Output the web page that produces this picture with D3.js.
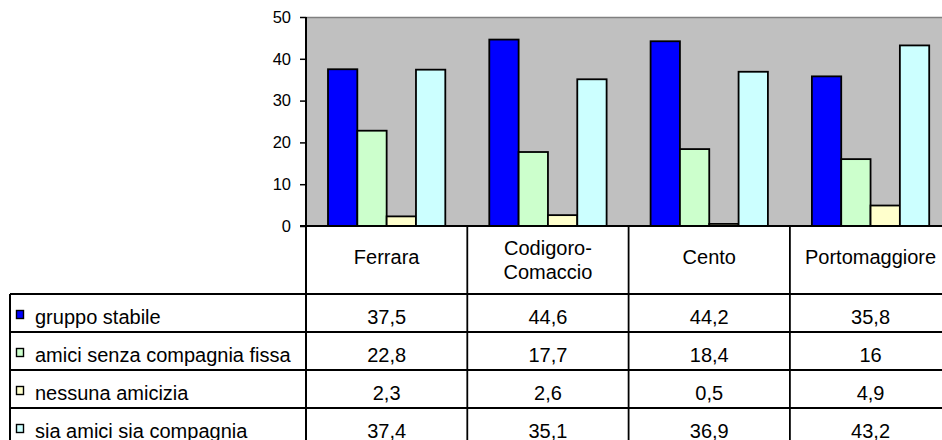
<!DOCTYPE html>
<html>
<head>
<meta charset="utf-8">
<script src="https://cdn.jsdelivr.net/npm/d3@7"></script>
<style>
  body { margin: 0; background: #fff; }
  svg { display: block; }
  text { font-family: "Liberation Sans", Arial, sans-serif; fill: #000; }
</style>
</head>
<body>
<svg></svg>
<script>
// chart data
const categories = ["Ferrara", "Codigoro-\nComaccio", "Cento", "Portomaggiore"];
const seriesNames = ["gruppo stabile", "amici senza compagnia fissa", "nessuna amicizia", "sia amici sia compagnia"];
const gruppoStabile = [37.5, 44.6, 44.2, 35.8];
const amiciSenzaCompagnia = [22.8, 17.7, 18.4, 16];
const nessunaAmicizia = [2.3, 2.6, 0.5, 4.9];
const siaAmiciSiaCompagnia = [37.4, 35.1, 36.9, 43.2];
const seriesColors = ["#0000ff", "#ccffcc", "#ffffcc", "#ccffff"];
const yTicks = [0, 10, 20, 30, 40, 50];

const W = 942, H = 440;
const plot = { left: 306, top: 17, bottom: 226, step: 161.3 };
const headerBottom = 294;
const rowH = 38;
const tableLeft = 10;
const fontSize = 20;

const seriesValues = [gruppoStabile, amiciSenzaCompagnia, nessunaAmicizia, siaAmiciSiaCompagnia];

var svg = d3.select('svg')
  .attr('width', W)
  .attr('height', H);

const x0 = d3.scaleBand()
  .domain(categories)
  .range([plot.left, plot.left + plot.step * categories.length])
  .padding(0);

// gap width 150% -> outer padding of 0.75 band on each side
const x1 = d3.scaleBand()
  .domain(d3.range(seriesNames.length))
  .range([0, x0.bandwidth()])
  .paddingInner(0)
  .paddingOuter(0.75);

const y = d3.scaleLinear()
  .domain([0, 50])
  .range([plot.bottom, plot.top]);

// plot area background
svg.append('rect')
  .attr('x', plot.left)
  .attr('y', plot.top)
  .attr('width', x0.range()[1] - plot.left)
  .attr('height', plot.bottom - plot.top)
  .attr('fill', '#c0c0c0');

svg.append('line')
  .attr('x1', plot.left).attr('x2', W)
  .attr('y1', plot.top + 0.5).attr('y2', plot.top + 0.5)
  .attr('stroke', '#808080')
  .attr('stroke-width', 1.5);

// bars
const groups = svg.append('g').selectAll('g')
  .data(categories)
  .join('g')
  .attr('transform', d => `translate(${x0(d)},0)`);

groups.selectAll('rect')
  .data((d, i) => seriesValues.map((vals, s) => ({ s: s, v: vals[i] })))
  .join('rect')
  .attr('x', d => x1(d.s))
  .attr('y', d => y(d.v))
  .attr('width', x1.bandwidth())
  .attr('height', d => y(0) - y(d.v))
  .attr('fill', d => seriesColors[d.s])
  .attr('stroke', '#000')
  .attr('stroke-width', 1.8);

// y axis
const yAxis = d3.axisLeft(y)
  .tickValues(yTicks)
  .tickSize(6)
  .tickPadding(9)
  .tickFormat(d3.format('d'));

const gy = svg.append('g')
  .attr('transform', `translate(${plot.left},0)`)
  .call(yAxis);
gy.select('.domain').remove();
gy.selectAll('.tick line').attr('stroke', '#000').attr('stroke-width', 1.5);
gy.selectAll('.tick text')
  .attr('font-size', 16.5)
  .attr('font-family', '"Liberation Sans", Arial, sans-serif')
  .attr('fill', '#000');

// data table grid
const grid = svg.append('g')
  .attr('stroke', '#000')
  .attr('stroke-width', 2);

// axis line / table top
grid.append('line')
  .attr('x1', plot.left - 6).attr('x2', W)
  .attr('y1', plot.bottom).attr('y2', plot.bottom);

// row lines
d3.range(seriesNames.length).forEach(i => {
  const yy = headerBottom + i * rowH;
  grid.append('line')
    .attr('x1', tableLeft).attr('x2', W)
    .attr('y1', yy).attr('y2', yy);
});

// left border of legend column
grid.append('line')
  .attr('x1', tableLeft).attr('x2', tableLeft)
  .attr('y1', headerBottom).attr('y2', H);

// value axis line, then column separators below the plot
grid.append('line')
  .attr('x1', plot.left).attr('x2', plot.left)
  .attr('y1', plot.top).attr('y2', H);
categories.slice(1).forEach(c => {
  grid.append('line')
    .attr('x1', x0(c)).attr('x2', x0(c))
    .attr('y1', plot.bottom).attr('y2', H)
    .attr('stroke-width', 1.8);
});

// category headers
categories.forEach(c => {
  const lines = c.split('\n');
  const cx = x0(c) + x0.bandwidth() / 2;
  const cy = (plot.bottom + headerBottom) / 2;
  const t = svg.append('text')
    .attr('text-anchor', 'middle')
    .attr('font-size', fontSize);
  lines.forEach((ln, k) => {
    t.append('tspan')
      .attr('x', cx)
      .attr('y', cy + (lines.length > 1 ? 7 : 4) + (k - (lines.length - 1) / 2) * 24)
      .text(ln);
  });
});

const fmt = v => String(v).replace('.', ',');

// legend rows with values
seriesNames.forEach((name, s) => {
  const top = headerBottom + s * rowH;
  const base = top + 30;
  svg.append('rect')
    .attr('x', 16.5)
    .attr('y', top + 16.5)
    .attr('width', 7)
    .attr('height', 8)
    .attr('fill', seriesColors[s])
    .attr('stroke', '#000')
    .attr('stroke-width', 1.4);
  svg.append('text')
    .attr('x', 35)
    .attr('y', base)
    .attr('font-size', fontSize)
    .text(name);
  categories.forEach((c, i) => {
    svg.append('text')
      .attr('x', x0(c) + x0.bandwidth() / 2)
      .attr('y', base)
      .attr('text-anchor', 'middle')
      .attr('font-size', fontSize)
      .text(fmt(seriesValues[s][i]));
  });
});
</script>
</body>
</html>
